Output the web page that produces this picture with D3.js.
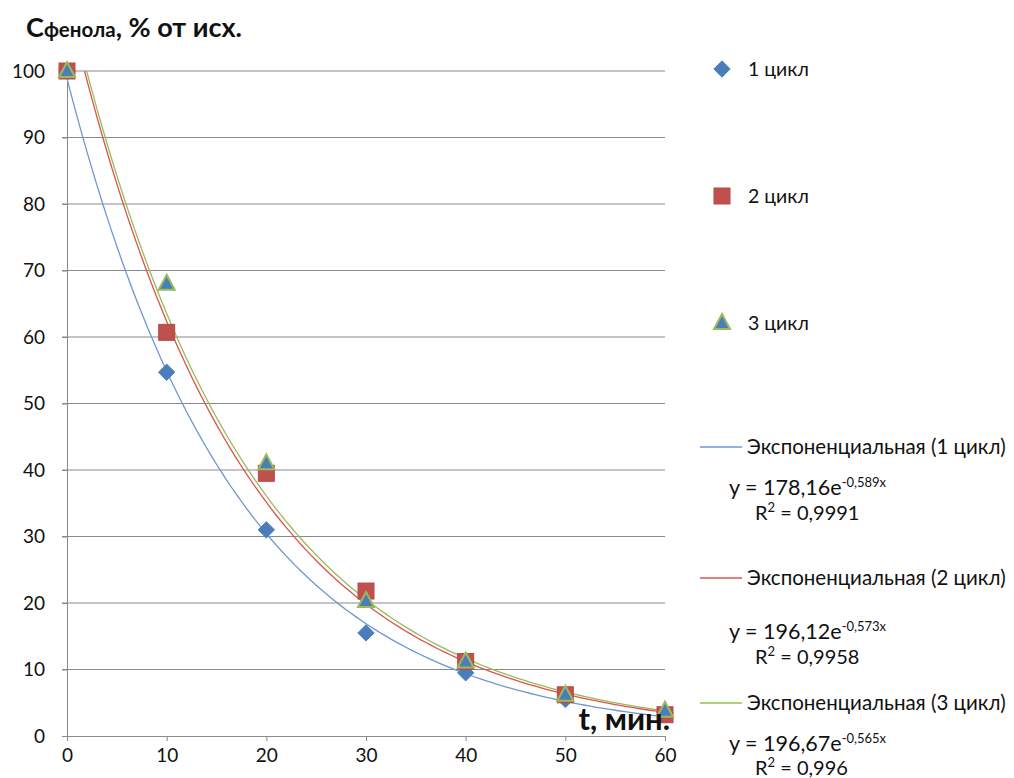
<!DOCTYPE html>
<html><head><meta charset="utf-8">
<script src="https://cdn.jsdelivr.net/npm/d3@7"></script>
<style>body{margin:0;background:#fff}svg{display:block}text{font-family:Lato,"Noto Sans",sans-serif;fill:#111}</style>
</head><body><svg id="c" width="1014" height="778"></svg>
<script>
const times = [0, 10, 20, 30, 40, 50, 60];
const cycle1 = [100, 54.7, 31.0, 15.5, 9.5, 5.5, 3.5];
const cycle2 = [100, 60.7, 39.5, 21.8, 11.2, 6.2, 3.2];
const cycle3 = [100, 68.0, 41.0, 20.3, 11.2, 6.2, 3.8];
const seriesNames = ["1 цикл", "2 цикл", "3 цикл"];
const trendNames = ["Экспоненциальная (1 цикл)", "Экспоненциальная (2 цикл)", "Экспоненциальная (3 цикл)"];
const trendA = [178.16, 196.12, 196.67];
const trendB = [0.589, 0.573, 0.565];
const trendAText = ["178,16", "196,12", "196,67"];
const trendBText = ["-0,589x", "-0,573x", "-0,565x"];
const r2Text = ["0,9991", "0,9958", "0,996"];
const xTicks = [0, 10, 20, 30, 40, 50, 60];
const yTicks = [0, 10, 20, 30, 40, 50, 60, 70, 80, 90, 100];

const svg = d3.select("#c");
const x = d3.scaleLinear().domain([0, 60]).range([67, 665]);
const y = d3.scaleLinear().domain([0, 100]).range([736, 71]);
const grid = "#8a8a8a";

svg.append("g").selectAll("line").data(yTicks.filter(d => d > 0)).join("line")
  .attr("x1", 62).attr("x2", 665).attr("y1", d => y(d)).attr("y2", d => y(d))
  .attr("stroke", grid).attr("stroke-width", 1);

const ya = svg.append("g").attr("transform", `translate(${x(0)},0)`)
  .call(d3.axisLeft(y).tickValues(yTicks).tickSize(5).tickPadding(17).tickFormat(d3.format("d")));
ya.select(".domain").attr("stroke", grid);
ya.selectAll(".tick line").attr("stroke", grid);
ya.selectAll("text").attr("font-size", 19).style("fill", "#111").attr("font-family", "Lato, Noto Sans, sans-serif");

const xa = svg.append("g").attr("transform", `translate(0,${y(0)})`)
  .call(d3.axisBottom(x).tickValues(xTicks).tickSize(5).tickPadding(8));
xa.select(".domain").attr("stroke", grid);
xa.selectAll(".tick line").attr("stroke", grid);
xa.selectAll("text").attr("font-size", 19).style("fill", "#111").attr("font-family", "Lato, Noto Sans, sans-serif");

svg.append("clipPath").attr("id", "plot").append("rect")
  .attr("x", x(0)).attr("y", y(100)).attr("width", x(60) - x(0)).attr("height", y(0) - y(100));

const trendColors = ["#6f97d0", "#d9534f", "#9bbb59"];
const tSamples = d3.range(0, 60.01, 0.5);
const line = d3.line().x(d => x(d[0])).y(d => y(d[1]));
const tg = svg.append("g").attr("clip-path", "url(#plot)");
[0, 1, 2].forEach(i => {
  const pts = tSamples.map(t => [t, trendA[i] * Math.exp(-trendB[i] * (t / 10 + 1))]);
  tg.append("path").datum(pts).attr("d", line).attr("fill", "none")
    .attr("stroke", trendColors[i]).attr("stroke-width", 1.3);
});

const blue = "#4a7ebb", red = "#c0504d", green = "#9bbb59";
function diamond(g, cx, cy) {
  g.append("path").attr("d", d3.symbol(d3.symbolDiamond2, 170)())
    .attr("transform", `translate(${cx},${cy})`).attr("fill", blue).attr("stroke", blue).attr("stroke-width", 1);
}
function square(g, cx, cy) {
  g.append("rect").attr("x", cx - 8).attr("y", cy - 8).attr("width", 16).attr("height", 16)
    .attr("fill", red).attr("stroke", "#b94a47").attr("stroke-width", 1);
}
function triangle(g, cx, cy) {
  g.append("path").attr("d", `M${cx},${cy - 9}L${cx + 8},${cy + 6}L${cx - 8},${cy + 6}Z`)
    .attr("fill", blue).attr("stroke", green).attr("stroke-width", 2);
}
const mg = svg.append("g");
times.forEach((t, i) => diamond(mg, x(t), y(cycle1[i])));
times.forEach((t, i) => square(mg, x(t), y(cycle2[i])));
times.forEach((t, i) => triangle(mg, x(t), y(cycle3[i])));

const title = svg.append("text").attr("x", 26).attr("y", 37).attr("font-weight", "bold").attr("font-size", 27);
title.append("tspan").text("С");
title.append("tspan").attr("font-size", 20.5).text("фенола");
title.append("tspan").text(", % от исх.");

svg.append("text").attr("x", 670).attr("y", 730).attr("text-anchor", "end")
  .attr("font-weight", "bold").attr("font-size", 31).text("t, мин.");

const lg = svg.append("g");
const legY = [69, 196, 323];
const legFns = [diamond, square, triangle];
legY.forEach((ly, i) => {
  legFns[i](lg, 722, ly);
  lg.append("text").attr("x", 748).attr("y", ly + 7).attr("font-size", 19.5).text(seriesNames[i]);
});
const trLegY = [447, 578, 703];
const eqY = [488, 632, 744];
const r2Y = [513, 657, 768];
trLegY.forEach((ly, i) => {
  lg.append("line").attr("x1", 700).attr("x2", 742).attr("y1", ly).attr("y2", ly)
    .attr("stroke", trendColors[i]).attr("stroke-width", 1.3);
  lg.append("text").attr("x", 747).attr("y", ly + 7).attr("font-size", 20.5).text(trendNames[i]);
  const eq = lg.append("text").attr("x", 729).attr("y", eqY[i] + 7).attr("font-size", 21.5);
  eq.append("tspan").text("y = " + trendAText[i] + "e");
  eq.append("tspan").attr("font-size", 13).attr("dy", -8).text(trendBText[i]);
  const r = lg.append("text").attr("x", 755).attr("y", r2Y[i] + 7).attr("font-size", 20);
  r.append("tspan").text("R");
  r.append("tspan").attr("font-size", 13).attr("dy", -8).text("2");
  r.append("tspan").attr("dy", 8).text(" = " + r2Text[i]);
});
</script></body></html>
